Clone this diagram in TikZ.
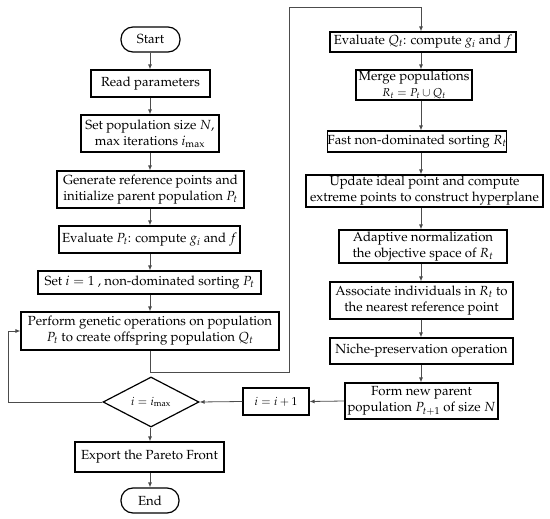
\documentclass[tikz,border=0pt]{standalone}
\usepackage[T1]{fontenc}
\usepackage{mathpazo}
\usetikzlibrary{shapes.geometric,arrows.meta}
\tikzset{
  box/.style={draw=black, line width=1.2pt, inner sep=0pt, align=center,
    font=\fontsize{13.2}{16}\selectfont},
  term/.style={box, rounded corners=12pt},
  dec/.style={draw=black, line width=1.2pt, diamond, inner sep=0pt,
    font=\fontsize{11.5}{13}\selectfont},
  arr/.style={draw=black!70, line width=0.8pt, -{Latex[length=5pt,width=4pt]}},
  ln/.style={draw=black!70, line width=0.8pt},
}
\newcommand{\bx}[6]{\node[#1, minimum width=#4pt, minimum height=#5pt] (#2) at (#3) {#6};}
\begin{document}
\begin{tikzpicture}[x=1pt,y=-1pt]
\useasboundingbox (0,0) rectangle (550,519);
% left column
\bx{term}{start}{150.5,39.5}{59}{25}{Start}
\bx{box}{read}{150.5,83.5}{119}{27}{Read parameters}
\bx{box}{setpop}{150,133.5}{138}{37}{Set population size $N$,\\ max iterations $i_{\max}$}
\bx{box}{gen}{150.5,189.5}{187}{37}{Generate reference points and\\ initialize parent population $P_t$}
\bx{box}{evalP}{149.5,239.5}{181}{27}{Evaluate $P_t$: compute $g_i$ and $f$}
\bx{box}{seti}{149.5,282.5}{223}{23}{Set $i=1$ , non-dominated sorting $P_t$}
\bx{box}{perform}{150,331}{258}{38}{Perform genetic operations on population\\ $P_t$ to create offspring population $Q_t$}
\node[dec, minimum width=96pt, minimum height=40pt] (dec) at (151,402) {$i=i_{\max}$};
\bx{box}{export}{149.5,457}{149}{30}{Export the Pareto Front}
\bx{term}{end}{150,500.5}{58}{25}{End}
% right column
\bx{box}{evalQ}{423,42}{186}{20}{Evaluate $Q_t$: compute $g_i$ and $f$}
\bx{box}{merge}{414,85}{116}{30}{Merge populations\\ {\fontsize{11.5}{13}\selectfont $R_t=P_t\cup Q_t$}}
\bx{box}{fast}{417,141.5}{178}{21}{Fast non-dominated sorting $R_t$}
\bx{box}{update}{424.5,191}{237}{32}{Update ideal point and compute\\ extreme points to construct hyperplane}
\bx{box}{adapt}{423,246.5}{168}{33}{Adaptive normalization\\ the objective space of $R_t$}
\bx{box}{assoc}{421.5,300.5}{183}{37}{Associate individuals in $R_t$ to\\ the nearest reference point}
\bx{box}{niche}{421.5,351}{183}{26}{Niche-preservation operation}
\bx{box}{form}{421.5,401}{153}{36}{Form new parent\\ population $P_{t+1}$ of size $N$}
\node[box, font=\fontsize{11.5}{13}\selectfont, minimum width=66pt, minimum height=27pt] (incr) at (276,401.5) {$i=i+1$};
% column axes
\coordinate (cl) at (150,0);
\coordinate (cr) at (421,0);
% left arrows
\draw[arr] (start.south -| cl) -- (read.north -| cl);
\draw[arr] (read.south -| cl) -- (setpop.north -| cl);
\draw[arr] (setpop.south -| cl) -- (gen.north -| cl);
\draw[arr] (gen.south -| cl) -- (evalP.north -| cl);
\draw[arr] (evalP.south -| cl) -- (seti.north -| cl);
\draw[arr] (seti.south -| cl) -- (perform.north -| cl);
\draw[arr] (dec.south -| cl) -- (export.north -| cl);
\draw[arr] (export.south -| cl) -- (end.north -| cl);
% right arrows
\draw[arr] (evalQ.south -| cr) -- (merge.north -| cr);
\draw[arr] (merge.south -| cr) -- (fast.north -| cr);
\draw[arr] (fast.south -| cr) -- (update.north -| cr);
\draw[arr] (update.south -| cr) -- (adapt.north -| cr);
\draw[arr] (adapt.south -| cr) -- (assoc.north -| cr);
\draw[arr] (assoc.south -| cr) -- (niche.north -| cr);
\draw[arr] (niche.south -| cr) -- (form.north -| cr);
% loop connectors
\coordinate (p1) at (150,372);
\coordinate (p2) at (289,372);
\coordinate (p3) at (289,7);
\coordinate (p4) at (421,7);
\draw[arr] (perform.south -| cl) -- (p1) -- (p2) -- (p3) -- (p4) -- (evalQ.north -| cr);
\draw[arr] (form.west) -- (incr.east);
\draw[arr] (incr.west) -- (dec.east);
\coordinate (q1) at (8,402);
\coordinate (q2) at (8,331);
\draw[arr] (dec.west) -- (q1) -- (q2) -- (perform.west);
\end{tikzpicture}
\end{document}
